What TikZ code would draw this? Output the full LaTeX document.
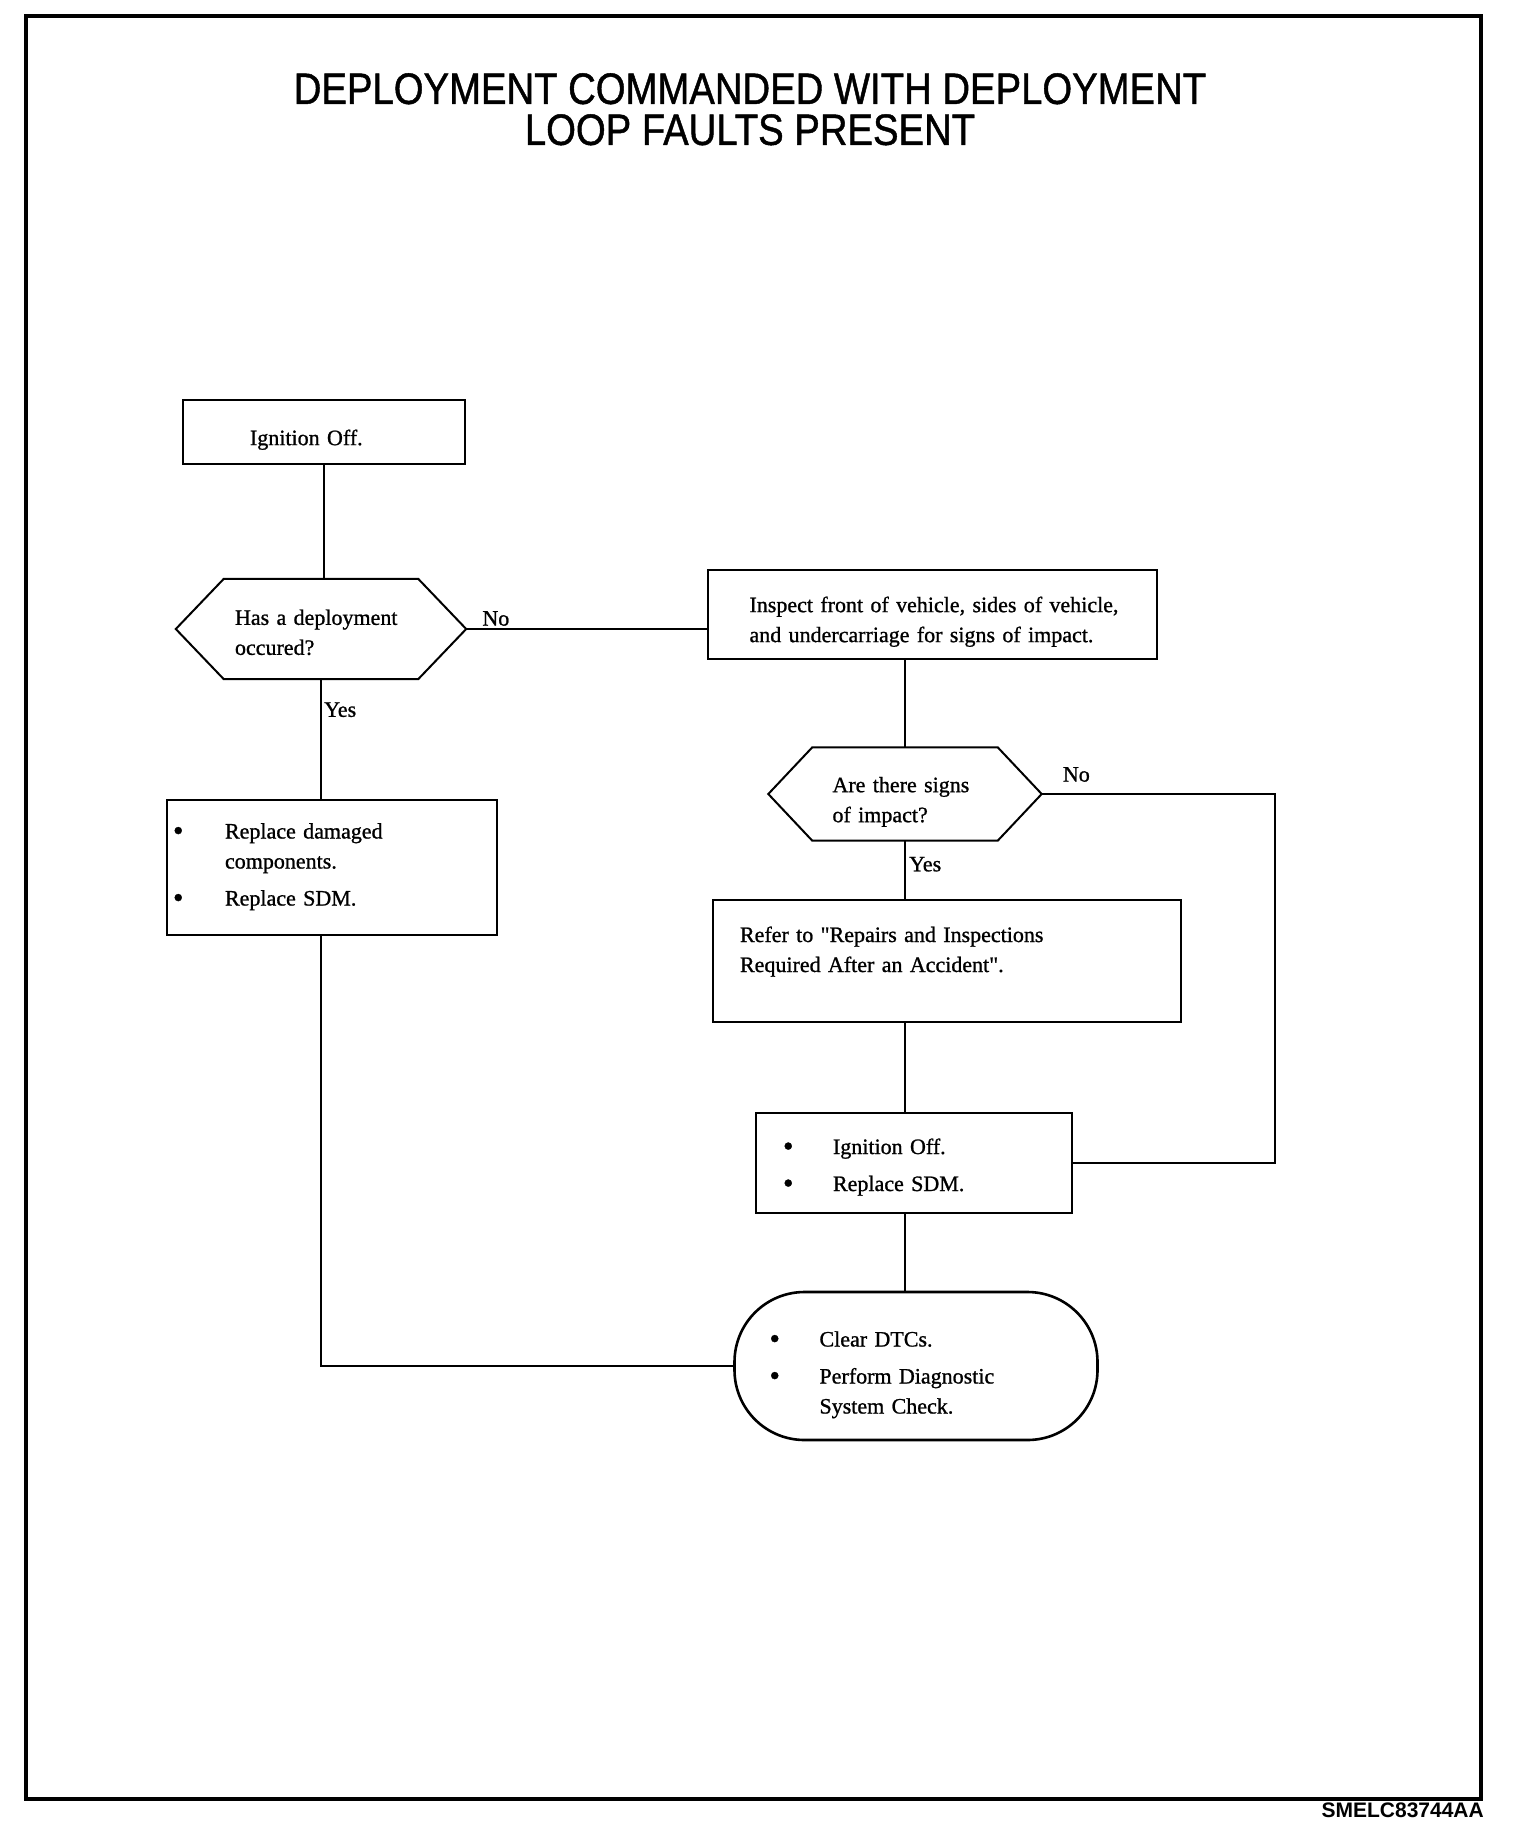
\documentclass[tikz,border=0pt]{standalone}
\usepackage{fontspec}
\setmainfont{Liberation Serif}
\newfontfamily\bodyfont[FakeBold=1]{Liberation Serif}
\newfontfamily\titlefont[FakeStretch=0.87, FakeBold=1]{Liberation Sans}
\newfontfamily\tagfont{Liberation Sans}
\usepackage{array}
\usetikzlibrary{positioning}

\newcommand{\bulletmark}{\hspace*{-6pt}\raisebox{-2pt}{\fontsize{30}{30}\selectfont\textbullet}}

\tikzset{
  box/.style={draw, line width=2pt, rectangle, align=left, inner ysep=0pt, text height=31pt,
    font=\bodyfont\fontsize{22}{30}\selectfont},
  decision/.style={rectangle, align=left, inner ysep=0pt, text height=31pt,
    font=\bodyfont\fontsize{22}{30}\selectfont},
  listbox/.style={box, text height=37pt},
  hexline/.style={line width=2pt, line join=miter},
  terminal/.style={draw, line width=2.6pt, rounded corners=70pt, align=left, inner ysep=0pt,
    text height=37pt, font=\bodyfont\fontsize{22}{30}\selectfont},
  link/.style={line width=1.1pt},
  lbl/.style={inner sep=0pt, font=\bodyfont\fontsize{22}{26}\selectfont}
}

\begin{document}
\begin{tikzpicture}[x=1pt, y=-1pt]
\useasboundingbox (0,0) rectangle (1520,1836);
\draw[line width=3.5pt] (26,16) rectangle (1481,1799);

\node[anchor=north, align=center, inner sep=0pt, font=\titlefont\fontsize{44}{41}\selectfont] (title) at (750,73) {DEPLOYMENT COMMANDED WITH DEPLOYMENT\\LOOP FAULTS PRESENT};

% left branch
\node[box, minimum width=282pt, minimum height=64pt, text width=148pt, inner xsep=67pt] (ign1) at (324,432) {Ignition Off.};
\node[decision, minimum width=290pt, minimum height=100pt, text width=172pt, inner xsep=59pt, text height=22pt] (hex1) at (321,629) {Has a deployment\\occured?};
\draw[hexline] (hex1.west) -- ([xshift=48pt]hex1.north west) -- ([xshift=-48pt]hex1.north east) -- (hex1.east) -- ([xshift=-48pt]hex1.south east) -- ([xshift=48pt]hex1.south west) -- cycle;
\node[listbox, minimum width=330pt, minimum height=135pt, text width=306pt, inner xsep=12pt] (repl) at (332,867) {\begin{tabular}[t]{@{}p{46pt}@{}l@{}}
\bulletmark & Replace damaged\\ & components.\\[7pt]
\bulletmark & Replace SDM.\\[18pt]
\end{tabular}};

% right branch
\node[box, minimum width=449pt, minimum height=89pt, text width=365pt, inner xsep=42pt] (insp) at (932,614) {\mbox{Inspect front of vehicle, sides of vehicle,}\\and undercarriage for signs of impact.};
\node[decision, minimum width=273pt, minimum height=93pt, text width=145pt, inner xsep=64pt] (hex2) at (905,794) {Are there signs\\of impact?};
\draw[hexline] (hex2.west) -- ([xshift=44pt]hex2.north west) -- ([xshift=-44pt]hex2.north east) -- (hex2.east) -- ([xshift=-44pt]hex2.south east) -- ([xshift=44pt]hex2.south west) -- cycle;
\node[box, minimum width=468pt, minimum height=122pt, text width=414pt, inner xsep=27pt] (refer) at (947,961) {Refer to "Repairs and Inspections\\Required After an Accident".\\\strut};
\node[listbox, minimum width=316pt, minimum height=100pt, text width=250pt, inner xsep=33pt, text height=28pt] (ign2) at (914,1163) {\begin{tabular}[t]{@{}p{44pt}@{}l@{}}
\bulletmark & Ignition Off.\\[7pt]
\bulletmark & Replace SDM.
\end{tabular}};
\node[terminal, minimum width=363pt, minimum height=148pt, text width=281pt, inner xsep=41pt] (term) at (916,1366) {\begin{tabular}[t]{@{}p{44pt}@{}l@{}}
\bulletmark & Clear DTCs.\\[7pt]
\bulletmark & Perform Diagnostic\\ & System Check.
\end{tabular}};
\coordinate (nocorner) at (1275,1163);

% connectors
\draw[link] (ign1.south) -- (ign1.south |- hex1.north);
\draw[link] (hex1.east) -- (hex1.east -| insp.west);
\draw[link] (hex1.south) -- (hex1.south |- repl.north);
\draw[link] (repl.south -| hex1.south) |- (term.west);
\draw[link] (insp.south -| hex2.north) -- (hex2.north);
\draw[link] (hex2.south) -- (hex2.south |- refer.north);
\draw[link] (refer.south -| hex2.south) -- (hex2.south |- ign2.north);
\draw[link] (ign2.south -| hex2.south) -- (hex2.south |- term.north);
\draw[link] (hex2.east) -| (nocorner) -- (ign2.east);

\node[lbl, above right=3pt and 16pt of hex1.east] (no1) {No};
\node[lbl, below right=23pt and 3pt of hex1.south] (yes1) {Yes};
\node[lbl, above right=12pt and 21pt of hex2.east] (no2) {No};
\node[lbl, below right=16pt and 4pt of hex2.south] (yes2) {Yes};

\node[anchor=south east, inner sep=0pt, font=\tagfont\bfseries\fontsize{21}{21}\selectfont] (tag) at (1484,1818) {SMELC83744AA};
\end{tikzpicture}
\end{document}
